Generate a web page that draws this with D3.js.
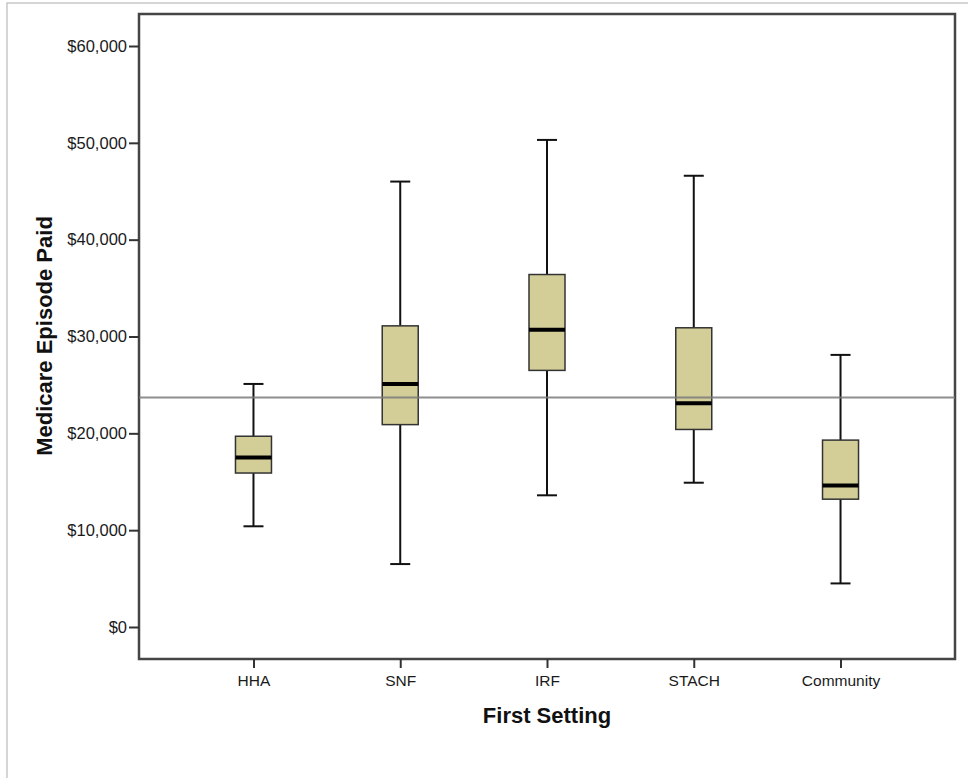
<!DOCTYPE html>
<html>
<head>
<meta charset="utf-8">
<script src="https://cdn.jsdelivr.net/npm/d3@7.9.0/dist/d3.min.js"></script>
<style>
  body { margin: 0; background: #fff; }
  svg { display: block; font-family: "Liberation Sans", Arial, sans-serif; }
</style>
</head>
<body>
<svg id="chart" width="968" height="778"></svg>
<script>
// box plot stats
const settings = ['HHA', 'SNF', 'IRF', 'STACH', 'Community'];
const whiskerLow = [10400, 6500, 13600, 14900, 4500];
const q1 = [15900, 20900, 26500, 20400, 13200];
const medians = [17500, 25100, 30700, 23100, 14600];
const q3 = [19700, 31100, 36400, 30900, 19300];
const whiskerHigh = [25100, 46000, 50300, 46600, 28100];
const referenceValue = 23700;
const yTicks = [0, 10000, 20000, 30000, 40000, 50000, 60000];

const svg = d3.select('#chart');
const frameLeft = 139, frameRight = 955, frameTop = 14, frameBottom = 659;

const x = d3.scalePoint().domain(settings).range([frameLeft, frameRight]).padding(0.78);
const y = d3.scaleLinear().domain([0, 60000]).range([627, 46]);

// faint outer border
svg.append('path')
   .attr('d', `M7,778 V3 H968`)
   .attr('fill', 'none')
   .attr('stroke', '#c8c8c8')
   .attr('stroke-width', 1.5);

// plot frame
svg.append('rect')
   .attr('x', frameLeft).attr('y', frameTop)
   .attr('width', frameRight - frameLeft).attr('height', frameBottom - frameTop)
   .attr('fill', '#fff')
   .attr('stroke', '#454545')
   .attr('stroke-width', 2.5);

// y axis
const yAxis = d3.axisLeft(y)
    .tickValues(yTicks)
    .tickSize(10)
    .tickPadding(2)
    .tickFormat(d => '$' + d3.format(',')(d));

svg.append('g')
   .attr('transform', `translate(${frameLeft},0)`)
   .call(yAxis)
   .call(g => g.select('.domain').remove())
   .call(g => g.selectAll('line').attr('stroke', '#333').attr('stroke-width', 2))
   .call(g => g.selectAll('text').attr('font-size', 16.5).attr('fill', '#1a1a1a')
                .attr('font-family', '"Liberation Sans", Arial, sans-serif'));

// x axis
const xAxis = d3.axisBottom(x).tickSize(9).tickPadding(7);
svg.append('g')
   .attr('transform', `translate(0,${frameBottom})`)
   .call(xAxis)
   .call(g => g.select('.domain').remove())
   .call(g => g.selectAll('line').attr('stroke', '#333').attr('stroke-width', 2))
   .call(g => g.selectAll('text').attr('font-size', 15.5).attr('fill', '#1a1a1a')
                .attr('font-family', '"Liberation Sans", Arial, sans-serif'));

// axis titles
svg.append('text')
   .attr('x', 547).attr('y', 723)
   .attr('text-anchor', 'middle')
   .attr('font-size', 22).attr('font-weight', 'bold')
   .attr('fill', '#111')
   .text('First Setting');

svg.append('text')
   .attr('transform', 'translate(52,336) rotate(-90)')
   .attr('text-anchor', 'middle')
   .attr('font-size', 22).attr('font-weight', 'bold')
   .attr('fill', '#111')
   .text('Medicare Episode Paid');

const boxW = 36, capW = 20;

settings.forEach((s, i) => {
    const cx = x(s);
    const g = svg.append('g');

    // whiskers
    g.append('line')
     .attr('x1', cx).attr('x2', cx)
     .attr('y1', y(whiskerHigh[i])).attr('y2', y(q3[i]))
     .attr('stroke', '#111').attr('stroke-width', 2);
    g.append('line')
     .attr('x1', cx).attr('x2', cx)
     .attr('y1', y(q1[i])).attr('y2', y(whiskerLow[i]))
     .attr('stroke', '#111').attr('stroke-width', 2);

    // caps
    [whiskerHigh[i], whiskerLow[i]].forEach(v => {
        g.append('line')
         .attr('x1', cx - capW / 2).attr('x2', cx + capW / 2)
         .attr('y1', y(v)).attr('y2', y(v))
         .attr('stroke', '#111').attr('stroke-width', 2);
    });

    // box
    g.append('rect')
     .attr('x', cx - boxW / 2).attr('width', boxW)
     .attr('y', y(q3[i])).attr('height', y(q1[i]) - y(q3[i]))
     .attr('fill', '#d3ce98')
     .attr('stroke', '#333').attr('stroke-width', 1.5);

    // median
    g.append('line')
     .attr('x1', cx - boxW / 2).attr('x2', cx + boxW / 2)
     .attr('y1', y(medians[i])).attr('y2', y(medians[i]))
     .attr('stroke', '#000').attr('stroke-width', 4);
});

// reference line, drawn over the boxes
svg.append('line')
   .attr('x1', frameLeft).attr('x2', frameRight)
   .attr('y1', y(referenceValue)).attr('y2', y(referenceValue))
   .attr('stroke', '#7a7a7a').attr('stroke-opacity', 0.85)
   .attr('stroke-width', 2);
</script>
</body>
</html>
